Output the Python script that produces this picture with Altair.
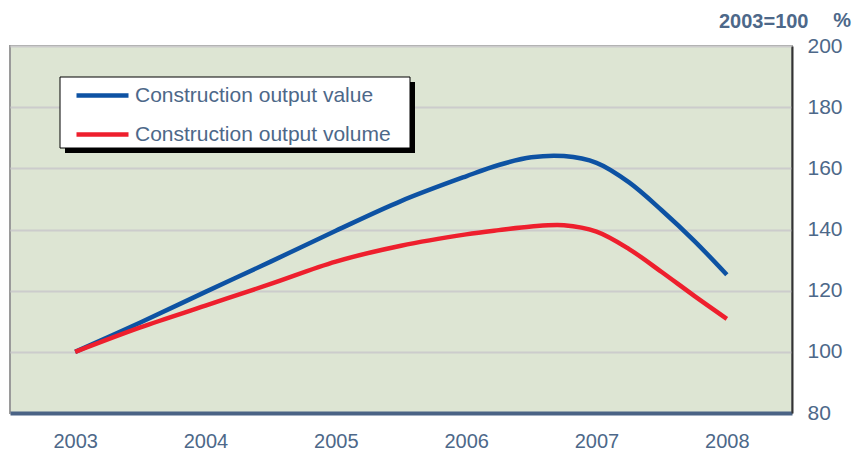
import altair as alt
import pandas as pd

years = [2003, 2003.5, 2004, 2004.5, 2005, 2005.5, 2006, 2006.25, 2006.5,
         2006.75, 2007, 2007.25, 2007.5, 2007.75, 2008]
output_value = [100, 109.6, 119.6, 129.5, 139.6, 149.3, 157.4, 161.1, 163.6,
                164.0, 161.8, 155.4, 146.3, 136.3, 125.2]
output_volume = [100, 108.0, 115.1, 122.2, 129.5, 134.7, 138.4, 139.8, 141.0,
                 141.4, 139.3, 133.6, 126.1, 118.3, 110.8]
series_names = ["Construction output value", "Construction output volume"]
series_colors = ["#0d52a3", "#ee1f2d"]
x_ticks = [2003, 2004, 2005, 2006, 2007, 2008]
y_ticks = [80, 100, 120, 140, 160, 180, 200]

rows = []
for yr, v, w in zip(years, output_value, output_volume):
    rows.append({"year": yr, "series": series_names[0], "index": v})
    rows.append({"year": yr, "series": series_names[1], "index": w})
df = pd.DataFrame(rows)

TXT = "#4d6889"
FONT = "Liberation Sans"

lines = alt.Chart(df).mark_line(strokeWidth=4.5, interpolate="catmull-rom").encode(
    x=alt.X("year:Q",
            scale=alt.Scale(domain=[2002.5, 2008.5], nice=False, zero=False),
            axis=alt.Axis(values=x_ticks, format="d", title=None, grid=False,
                          ticks=False, domainColor="#4a6385", domainWidth=4,
                          labelFontSize=20, labelColor=TXT, labelFont=FONT,
                          labelPadding=18, labelLimit=400)),
    y=alt.Y("index:Q",
            scale=alt.Scale(domain=[80, 200], nice=False, zero=False),
            axis=alt.Axis(orient="right", values=y_ticks, ticks=False,
                          grid=True, gridColor="#cccccc", gridWidth=2,
                          domainColor="#333333", domainWidth=2,
                          labelFontSize=21, labelColor=TXT, labelFont=FONT,
                          labelPadding=15, labelLimit=400, title="2003=100", titleAngle=0,
                          titleFontSize=20, titleFont=FONT, titleFontWeight="bold",
                          titleColor=TXT, titleAlign="right", titleBaseline="alphabetic",
                          titleX=16, titleY=-19)),
    color=alt.Color("series:N",
                    scale=alt.Scale(domain=series_names, range=series_colors),
                    legend=alt.Legend(title=None, orient="none", legendX=64, legendY=21,
                                      symbolType="stroke", symbolSize=2704,
                                      symbolStrokeWidth=4.5, labelFontSize=21,
                                      labelColor=TXT, labelFont=FONT, labelOffset=4,
                                      labelLimit=600, rowPadding=-3, padding=0)),
)

one = pd.DataFrame({"a": [0]})
shadow = alt.Chart(one).mark_rect(color="black").encode(
    x=alt.value(55), x2=alt.value(405), y=alt.value(36), y2=alt.value(107))
box = alt.Chart(one).mark_rect(fill="white", stroke="black", strokeWidth=1).encode(
    x=alt.value(50), x2=alt.value(400), y=alt.value(31), y2=alt.value(102))
pct = alt.Chart(one).mark_text(text="%", fontSize=20, font=FONT, fontWeight="bold",
                               color=TXT, align="right", baseline="alphabetic").encode(
    x=alt.value(841), y=alt.value(-19))

chart = alt.layer(lines, shadow, box, pct).properties(
    width=782, height=367,
    autosize=alt.AutoSizeParams(type="none"),
    padding={"left": 2, "top": 38, "right": 60, "bottom": 38},
).configure_view(fill="#dde5d3", stroke="#9a9a9a", strokeWidth=2)

chart.save("out.html", embed_options={"renderer": "svg", "actions": False})
